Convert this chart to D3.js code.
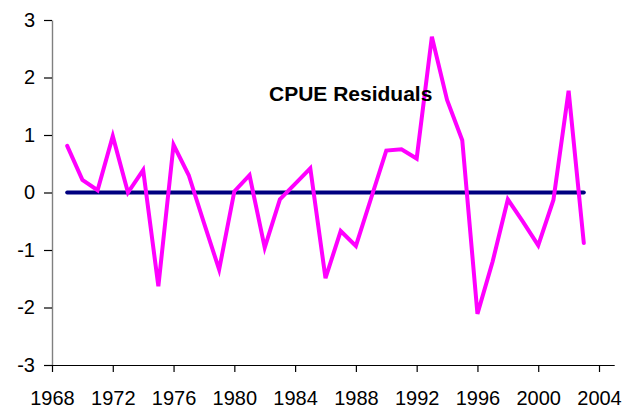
<!DOCTYPE html>
<html><head><meta charset="utf-8">
<script src="https://cdn.jsdelivr.net/npm/d3@7"></script>
<style>body{margin:0;background:#fff}svg{display:block}text{font-family:"Liberation Sans",Arial,sans-serif}</style>
</head><body><svg id="c" width="625" height="410"></svg>
<script>
const years = [1969,1970,1971,1972,1973,1974,1975,1976,1977,1978,1979,1980,1981,1982,1983,1984,1985,1986,1987,1988,1989,1990,1991,1992,1993,1994,1995,1996,1997,1998,1999,2000,2001,2002,2003];
const residuals = [0.81,0.22,0.04,0.98,0.0,0.39,-1.63,0.83,0.30,-0.53,-1.34,0.02,0.30,-0.96,-0.12,0.15,0.42,-1.49,-0.67,-0.93,-0.10,0.73,0.75,0.59,2.71,1.61,0.91,-2.11,-1.2,-0.12,-0.51,-0.92,-0.13,1.77,-0.88];
const xTicks = [1968,1972,1976,1980,1984,1988,1992,1996,2000,2004];
const yTicks = [-3,-2,-1,0,1,2,3];
const title = "CPUE Residuals";

const svg = d3.select("#c");
const x = d3.scaleLinear().domain([1968,2005]).range([52,614.2]);
const y = d3.scaleLinear().domain([-3,3]).range([365,20]);

// x axis
const gx = svg.append("g").attr("transform","translate(0,365)")
  .call(d3.axisBottom(x).tickValues(xTicks).tickFormat(d3.format("d")).tickSizeInner(7).tickSizeOuter(0).tickPadding(19));
gx.select(".domain").attr("stroke","#000").attr("stroke-width",1.2);
gx.selectAll(".tick line").attr("stroke","#000").attr("stroke-width",1.2);
gx.selectAll(".tick text").attr("font-size",20).attr("fill","#000");

// y axis
const gy = svg.append("g").attr("transform","translate(52,0)")
  .call(d3.axisLeft(y).tickValues(yTicks).tickFormat(d=>String(d).replace("−","-")).tickSizeInner(8).tickSizeOuter(0).tickPadding(9));
gy.select(".domain").attr("stroke","#808080").attr("stroke-width",1.4);
gy.selectAll(".tick line").attr("stroke","#000").attr("stroke-width",1.2);
gy.selectAll(".tick text").attr("font-size",20).attr("fill","#000");
gy.raise(); gx.raise();

// zero line
svg.append("line")
  .attr("x1",x(years[0])).attr("x2",x(years[years.length-1]))
  .attr("y1",y(0)).attr("y2",y(0))
  .attr("stroke","#000080").attr("stroke-width",4).attr("stroke-linecap","round");

// residual line
svg.append("path").datum(years.map((yr,i)=>[yr,residuals[i]]))
  .attr("fill","none").attr("stroke","#FF00FF").attr("stroke-width",4)
  .attr("stroke-linejoin","miter").attr("stroke-linecap","round")
  .attr("d", d3.line().x(d=>x(d[0])).y(d=>y(d[1])));

svg.append("text").attr("x",269).attr("y",101)
  .attr("font-size",21).attr("font-weight","bold").attr("fill","#000").text(title);
</script></body></html>
